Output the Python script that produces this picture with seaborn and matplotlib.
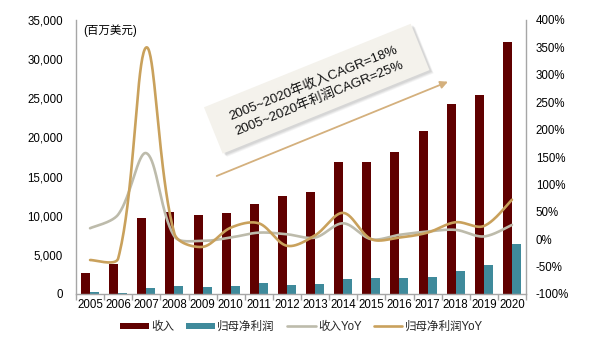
import numpy as np
import pandas as pd
import matplotlib
matplotlib.use("Agg")
import matplotlib.pyplot as plt
import seaborn as sns
from matplotlib.patches import Rectangle, Patch
from matplotlib.lines import Line2D
from matplotlib import transforms

# ---------------- data ----------------
years = [str(y) for y in range(2005, 2021)]
revenue = [2650, 3800, 9700, 10500, 10100, 10350, 11500, 12480, 13030, 16850,
           16900, 18180, 20820, 24270, 25460, 32150]
profit = [250, 130, 810, 980, 850, 1020, 1360, 1190, 1280, 1920,
          2000, 2040, 2210, 2940, 3700, 6390]
revenue_yoy = [20, 45, 157, 5, -3, 3, 12, 9, 3, 29, 0, 8, 14, 17, 5, 26]
profit_yoy = [-38, -35, 350, 10, -14, 21, 29, -12, 7, 48, 0, 3, 12, 31, 24, 72]

series_names = ["收入", "归母净利润", "收入YoY", "归母净利润YoY"]
left_ticks = [0, 5000, 10000, 15000, 20000, 25000, 30000, 35000]
right_ticks = [-100, -50, 0, 50, 100, 150, 200, 250, 300, 350, 400]
unit_label = "(百万美元)"
note_text = "2005~2020年收入CAGR=18%\n2005~2020年利润CAGR=25%"

# ---------------- style ----------------
RED = "#600000"
TEAL = "#3f8a9b"
GRAY = "#bdbbab"
GOLD = "#c9a15c"
SPINE = "#a6a6a6"

sns.set_theme(style="white")
plt.rcParams["font.family"] = ["Liberation Sans", "Noto Sans CJK SC", "DejaVu Sans"]

W, H = 599, 340
fig = plt.figure(figsize=(W / 100, H / 100), dpi=100)
ax = fig.add_axes([76 / W, (H - 294) / H, 450 / W, 274 / H])

df = pd.DataFrame({
    "year": years * 2,
    "value": revenue + profit,
    "series": [series_names[0]] * len(years) + [series_names[1]] * len(years),
})
sns.barplot(data=df, x="year", y="value", hue="series", order=years,
            hue_order=series_names[:2], palette=[RED, TEAL], width=0.64,
            saturation=1, linewidth=0, legend=False, ax=ax)

ax.set_xlim(-0.5, len(years) - 0.5)
ax.set_ylim(0, 35000)
ax.set_yticks(left_ticks)
ax.set_yticklabels([f"{v:,.0f}" for v in left_ticks])
ax.set_xlabel("")
ax.set_ylabel("")
ax.set_xticks(np.arange(-0.5, len(years), 1.0), minor=True)
ax.tick_params(axis="x", which="major", length=0, pad=3.5, labelsize=8.3, colors="black")
ax.tick_params(axis="x", which="minor", length=4, width=1, color=SPINE, bottom=True)
ax.tick_params(axis="y", length=0, pad=9.5, labelsize=8.3, colors="black")
for s in ["top", "right"]:
    ax.spines[s].set_visible(False)
for s in ["left", "bottom"]:
    ax.spines[s].set_color(SPINE)
    ax.spines[s].set_linewidth(1)

ax.text(0.016, 0.985, unit_label, transform=ax.transAxes, ha="left", va="top",
        fontsize=8.3, color="black")


# -------- smoothed lines (Excel-style smoothing in screen space) --------
def smooth(yvals, sx=28.125, sy=274 / 500, t=1 / 3, n=40):
    xv = np.arange(len(yvals), dtype=float)
    P = np.column_stack([xv * sx, np.asarray(yvals, dtype=float) * sy])
    out = []
    m = len(P)
    for i in range(m - 1):
        p0, p1 = P[i], P[i + 1]
        if i == 0:
            c1 = p0 + (p1 - p0) * t / 2
        else:
            v = P[i + 1] - P[i - 1]
            d1 = np.linalg.norm(P[i] - P[i - 1])
            d2 = np.linalg.norm(P[i + 1] - P[i])
            c1 = p0 + t * v * d2 / (d1 + d2)
        if i + 1 == m - 1:
            c2 = p1 - (p1 - p0) * t / 2
        else:
            v = P[i + 2] - P[i]
            d1 = np.linalg.norm(P[i + 1] - P[i])
            d2 = np.linalg.norm(P[i + 2] - P[i + 1])
            c2 = p1 - t * v * d1 / (d1 + d2)
        tt = np.linspace(0, 1, n, endpoint=(i == m - 2))[:, None]
        seg = ((1 - tt) ** 3) * p0 + 3 * ((1 - tt) ** 2) * tt * c1 + \
              3 * (1 - tt) * tt ** 2 * c2 + tt ** 3 * p1
        out.append(seg)
    out = np.vstack(out)
    return out[:, 0] / sx, out[:, 1] / sy


ax2 = ax.twinx()
gx, gy = smooth(revenue_yoy)
sns.lineplot(x=gx, y=gy, sort=False, color=GRAY, linewidth=1.9, ax=ax2)
px, py = smooth(profit_yoy)
sns.lineplot(x=px, y=py, sort=False, color=GOLD, linewidth=1.9, ax=ax2)

ax2.set_xlim(-0.5, len(years) - 0.5)
ax2.set_ylim(-100, 400)
ax2.set_yticks(right_ticks)
ax2.set_yticklabels([f"{v:.0f}%" for v in right_ticks])
ax2.tick_params(axis="y", length=0, pad=7, labelsize=8.3, colors="black")
ax2.set_ylabel("")
for s in ["top", "left", "bottom"]:
    ax2.spines[s].set_visible(False)
ax2.spines["right"].set_color(SPINE)
ax2.spines["right"].set_linewidth(1)

# -------- annotation box with soft shadow and arrow --------
cx, cy = 316.7 / 100, (H - 88.7) / 100
bw, bh = 2.23, 0.50
rot = transforms.Affine2D().rotate_deg_around(cx, cy, 22) + fig.dpi_scale_trans
for off, a in [(0.045, 0.08), (0.035, 0.10), (0.025, 0.12)]:
    shadow = Rectangle((cx - bw / 2 + off * 0.6, cy - bh / 2 - off), bw, bh,
                       transform=rot, facecolor="#707070", alpha=a,
                       edgecolor="none", zorder=5)
    fig.add_artist(shadow)
box = Rectangle((cx - bw / 2, cy - bh / 2), bw, bh, transform=rot,
                facecolor="#f4f2ec", edgecolor="none", zorder=6)
fig.add_artist(box)
fig.text(316 / W, (H - 90.5) / H, note_text, rotation=22, rotation_mode="anchor",
         ha="center", va="center", multialignment="center", fontsize=9.6,
         linespacing=1.3, color="#111111", zorder=7)

ax2.annotate("", xy=(448, H - 81.7), xytext=(216.7, H - 176),
             xycoords="figure pixels", textcoords="figure pixels",
             arrowprops=dict(arrowstyle="-|>", color="#d4b07d", lw=1.3,
                             mutation_scale=11, shrinkA=0, shrinkB=0))

# -------- legend --------
handles = [
    Patch(facecolor=RED, edgecolor="none"),
    Patch(facecolor=TEAL, edgecolor="none"),
    Line2D([], [], color=GRAY, linewidth=1.9),
    Line2D([], [], color=GOLD, linewidth=1.9),
]
fig.legend(handles, series_names, loc="lower center", ncol=4,
           bbox_to_anchor=(0.503, -0.01), frameon=False, fontsize=8.3,
           handlelength=2.5, handleheight=0.5, handletextpad=0.2,
           columnspacing=1.05)

fig.savefig("out.png", dpi=100)
